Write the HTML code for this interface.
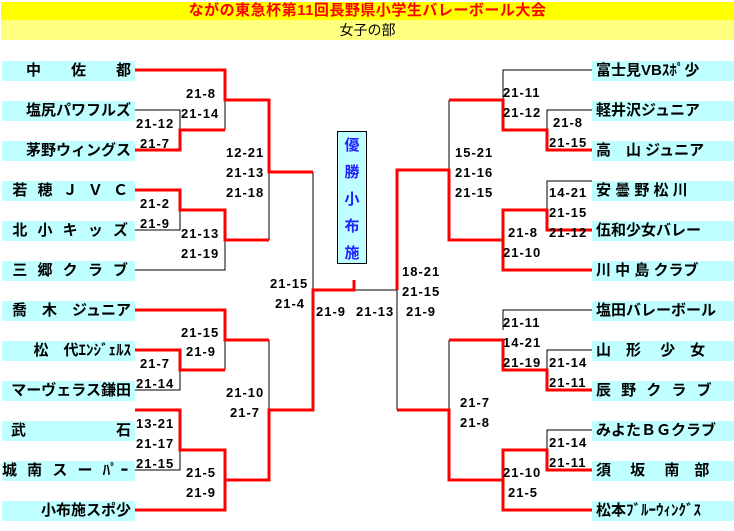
<!DOCTYPE html>
<html><head><meta charset="utf-8"><style>
*{margin:0;padding:0}
body{width:734px;height:531px;background:#fff;position:relative;overflow:hidden;font-family:"Liberation Sans","Noto Sans CJK JP",sans-serif;}
.t{position:absolute;left:1px;top:2px;width:733px;height:18px;background:#ffff00;color:#f00;font-weight:bold;font-size:15px;line-height:18px;text-align:center;letter-spacing:0.5px}
.s{position:absolute;left:1px;top:20px;width:733px;height:20px;background:#ffff80;color:#000;font-size:14px;line-height:20px;text-align:center;}
.b{position:absolute;height:20px;background:#c0ffff;font-weight:bold;font-size:15px;line-height:20px;white-space:pre;color:#000;overflow:hidden}
.l{left:2px;width:129px;text-align:right;padding-right:4px}
.r{left:592px;width:138px;text-align:left;padding-left:4px}
.c{position:absolute;font-weight:bold;font-size:13px;line-height:16px;white-space:pre;color:#000;letter-spacing:1px}
svg{position:absolute;left:0;top:0}
.w{position:absolute;left:337px;top:131px;width:28px;height:131px;background:#c0ffff;border:1px solid #000;color:#22f;font-weight:bold;font-size:15px;text-align:center;line-height:27px;padding-top:0px}
</style></head><body>
<div class="t">ながの東急杯第11回長野県小学生バレーボール大会</div>
<div class="s">女子の部</div>
<svg width="734" height="531">
<g fill="none" stroke="#000" stroke-width="1">
<path d="M135,110H180V130M225,100V130M269,172V240M135,230H180V210M135,270H225V240M313,172V290M225,340V370M135,390H180V370M269,340V410M135,470H180V450M225,450V480"/>
<path d="M592,70H503V100M592,110H547V130M449,100V170M592,181H547V210M355,290H397V410M592,310H503V330M592,350H547V370M449,340V410M592,430H547V450"/>
</g>
<g fill="none" stroke="#f00" stroke-width="3">
<path d="M135,70H225V100H269V172H313"/>
<path d="M135,150H180V130H225"/>
<path d="M135,190H180V210H225V240H269"/>
<path d="M135,310H225V340H269"/>
<path d="M135,350H180V370H225"/>
<path d="M135,410H180V450H225V480"/>
<path d="M135,510H225V480H269V410H313V290H354V280"/>
<path d="M592,150H547V130H503V100H449"/>
<path d="M397,290V170H449V240H503V270H592"/>
<path d="M592,230H547V210H503V240"/>
<path d="M397,410H449V480H503V510H592"/>
<path d="M592,390H547V370H503V340H449"/>
<path d="M592,470H547V450H503V480"/>
</g>
</svg>
<div class="w">優<br>勝<br>小<br>布<br>施</div>
<div class="b l" style="top:61px">中　　佐　　都</div>
<div class="b l" style="top:101px">塩尻パワフルズ</div>
<div class="b l" style="top:141px">茅野ウィングス</div>
<div class="b l" style="top:181px;letter-spacing:3px">若 穂 Ｊ Ｖ Ｃ</div>
<div class="b l" style="top:221px;letter-spacing:3px">北 小 キ ッ ズ</div>
<div class="b l" style="top:261px;letter-spacing:3px">三 郷 ク ラ ブ</div>
<div class="b l" style="top:301px">喬　木　ジュニア</div>
<div class="b l" style="top:341px">松　代ｴﾝｼﾞｪﾙｽ</div>
<div class="b l" style="top:381px">マーヴェラス鎌田</div>
<div class="b l" style="top:421px">武　　　　　　石</div>
<div class="b l" style="top:461px;letter-spacing:3px">城 南 ス ー ﾊﾟｰ</div>
<div class="b l" style="top:501px">小布施スポ少</div>
<div class="b r" style="top:61px">富士見VBｽﾎﾟ少</div>
<div class="b r" style="top:101px">軽井沢ジュニア</div>
<div class="b r" style="top:141px">高　山 ジュニア</div>
<div class="b r" style="top:181px">安 曇 野 松 川</div>
<div class="b r" style="top:221px">伍和少女バレー</div>
<div class="b r" style="top:261px">川 中 島 クラブ</div>
<div class="b r" style="top:301px">塩田バレーボール</div>
<div class="b r" style="top:341px">山　形　 少　女</div>
<div class="b r" style="top:381px;letter-spacing:3px">辰 野 ク ラ ブ</div>
<div class="b r" style="top:421px">みよたＢＧクラブ</div>
<div class="b r" style="top:461px">須　 坂　 南　部</div>
<div class="b r" style="top:501px">松本ﾌﾞﾙｰｳｨﾝｸﾞｽ</div>

<div class="c" style="left:186px;top:86px">21-8</div>
<div class="c" style="left:181px;top:106px">21-14</div>
<div class="c" style="left:136px;top:116px">21-12</div>
<div class="c" style="left:140px;top:136px">21-7</div>
<div class="c" style="left:226px;top:145px">12-21</div>
<div class="c" style="left:226px;top:165px">21-13</div>
<div class="c" style="left:226px;top:185px">21-18</div>
<div class="c" style="left:140px;top:196px">21-2</div>
<div class="c" style="left:140px;top:216px">21-9</div>
<div class="c" style="left:181px;top:226px">21-13</div>
<div class="c" style="left:181px;top:246px">21-19</div>
<div class="c" style="left:270px;top:276px">21-15</div>
<div class="c" style="left:275px;top:296px">21-4</div>
<div class="c" style="left:316px;top:304px">21-9</div>
<div class="c" style="left:356px;top:304px">21-13</div>
<div class="c" style="left:181px;top:325px">21-15</div>
<div class="c" style="left:186px;top:344px">21-9</div>
<div class="c" style="left:140px;top:356px">21-7</div>
<div class="c" style="left:136px;top:376px">21-14</div>
<div class="c" style="left:226px;top:385px">21-10</div>
<div class="c" style="left:230px;top:405px">21-7</div>
<div class="c" style="left:136px;top:416px">13-21</div>
<div class="c" style="left:136px;top:436px">21-17</div>
<div class="c" style="left:136px;top:456px">21-15</div>
<div class="c" style="left:186px;top:465px">21-5</div>
<div class="c" style="left:186px;top:485px">21-9</div>

<div class="c" style="left:503px;top:85px">21-11</div>
<div class="c" style="left:503px;top:105px">21-12</div>
<div class="c" style="left:553px;top:115px">21-8</div>
<div class="c" style="left:549px;top:135px">21-15</div>
<div class="c" style="left:455px;top:145px">15-21</div>
<div class="c" style="left:455px;top:165px">21-16</div>
<div class="c" style="left:455px;top:185px">21-15</div>
<div class="c" style="left:549px;top:185px">14-21</div>
<div class="c" style="left:549px;top:205px">21-15</div>
<div class="c" style="left:508px;top:225px">21-8</div>
<div class="c" style="left:549px;top:225px">21-12</div>
<div class="c" style="left:503px;top:245px">21-10</div>
<div class="c" style="left:402px;top:264px">18-21</div>
<div class="c" style="left:402px;top:284px">21-15</div>
<div class="c" style="left:406px;top:304px">21-9</div>
<div class="c" style="left:503px;top:315px">21-11</div>
<div class="c" style="left:503px;top:335px">14-21</div>
<div class="c" style="left:503px;top:355px">21-19</div>
<div class="c" style="left:549px;top:355px">21-14</div>
<div class="c" style="left:549px;top:375px">21-11</div>
<div class="c" style="left:460px;top:395px">21-7</div>
<div class="c" style="left:460px;top:415px">21-8</div>
<div class="c" style="left:549px;top:435px">21-14</div>
<div class="c" style="left:549px;top:455px">21-11</div>
<div class="c" style="left:503px;top:465px">21-10</div>
<div class="c" style="left:508px;top:485px">21-5</div>
</body></html>
